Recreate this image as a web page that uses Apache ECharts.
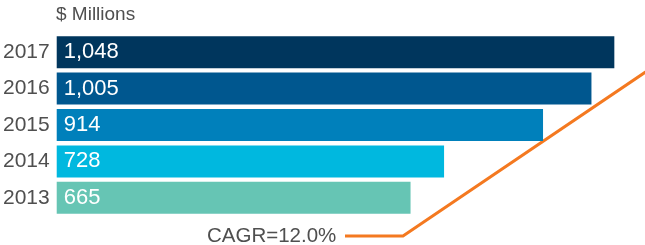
<!DOCTYPE html>
<html>
<head>
<meta charset="utf-8">
<script src="https://cdn.jsdelivr.net/npm/echarts@6/dist/echarts.min.js"></script>
<style>html,body{margin:0;padding:0;background:#fff;}#c{width:645px;height:245px;}</style>
</head>
<body>
<div id="c"></div>
<script>
var years = ['2013', '2014', '2015', '2016', '2017'];
var revenue = [665, 728, 914, 1005, 1048];
var barColors = ['#66C5B4', '#00B8DF', '#0080BB', '#00578F', '#00365D'];
var unitLabel = '$ Millions';
var cagrLabel = 'CAGR=12.0%';

var FONT = '"Liberation Sans", Arial, Helvetica, sans-serif';
var chart = echarts.init(document.getElementById('c'), null, {renderer: 'canvas'});
chart.setOption({
  animation: false,
  grid: {left: 56, top: 34, width: 586, height: 182},
  xAxis: {type: 'value', min: 0, max: 1100, show: false},
  yAxis: {
    type: 'category', data: years,
    axisLine: {show: false}, axisTick: {show: false}, splitLine: {show: false},
    axisLabel: {color: '#4f4f4f', fontSize: 21, fontFamily: FONT, margin: 7}
  },
  series: [{
    type: 'bar',
    barCategoryGap: '12%',
    data: revenue.map(function (v, i) { return {value: v, itemStyle: {color: barColors[i]}}; }),
    label: {
      show: true, position: 'insideLeft', distance: 7,
      color: '#fff', fontSize: 22, fontFamily: FONT,
      formatter: function (p) { return p.value.toLocaleString('en-US'); }
    }
  }],
  graphic: [
    {type: 'text', left: 56, top: 5, style: {text: unitLabel, fill: '#4f4f4f', font: '19px ' + FONT}},
    {type: 'text', left: 207, top: 226, style: {text: cagrLabel, fill: '#4f4f4f', font: '20.5px ' + FONT}},
    {type: 'polyline', shape: {points: [[345, 236], [403, 236], [650, 69]]},
     style: {stroke: '#F47920', lineWidth: 3, fill: null}}
  ]
});
</script>
</body>
</html>
